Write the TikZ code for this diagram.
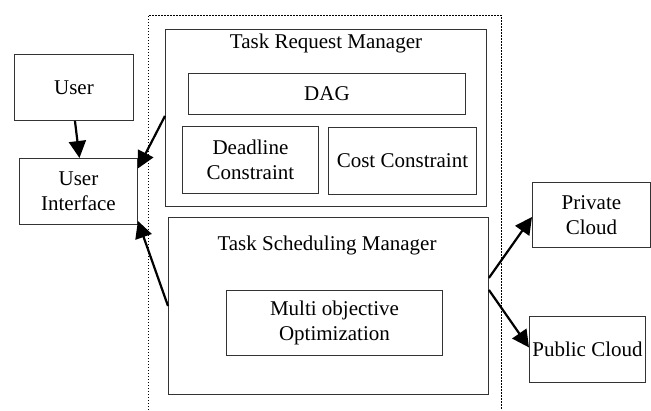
\documentclass[tikz,border=0pt]{standalone}
\usepackage{fontspec}
\setmainfont{Liberation Serif}
\usetikzlibrary{arrows.meta}
\begin{document}
\begin{tikzpicture}[x=1pt,y=-1pt,
  box/.style={draw=black!80, line width=0.9pt, inner sep=0pt, align=center,
    font=\fontsize{21}{25.5}\selectfont, anchor=north west},
  lbl/.style={inner sep=0pt, align=center, font=\fontsize{21}{25.5}\selectfont},
  arr/.style={line width=2.2pt, -{Triangle[length=17pt,width=17pt]}}]
\useasboundingbox (0,0) rectangle (651,410);
% dotted container (open at the bottom)
\draw[line width=0.8pt, dash pattern=on 1.5pt off 1.5pt] (148,410) -- (148,15) -- (501,15) -- (501,410);
% left side
\node[box, minimum width=119pt, minimum height=66pt] (user) at (14,54) {User};
\node[box, minimum width=118pt, minimum height=66pt] (ui) at (19,158) {User\\Interface};
% task request manager
\node[box, minimum width=321pt, minimum height=177pt] (trm) at (165,29) {};
\node[lbl] (trmt) at (326,43) {Task Request Manager};
\node[box, minimum width=277pt, minimum height=41pt] (dag) at (188,73) {DAG};
\node[box, minimum width=136pt, minimum height=67pt] (dl) at (182,126) {Deadline\\Constraint};
\node[box, minimum width=148pt, minimum height=67pt] (cc) at (328,127) {Cost Constraint};
% task scheduling manager
\node[box, minimum width=320pt, minimum height=177pt] (tsm) at (168,217) {};
\node[lbl] (tsmt) at (327,245) {Task Scheduling Manager};
\node[box, minimum width=216pt, minimum height=65pt] (mo) at (226,290) {Multi objective\\Optimization};
% clouds
\node[box, minimum width=118pt, minimum height=65pt] (pc) at (532,182) {Private\\Cloud};
\node[box, minimum width=116pt, minimum height=66pt] (puc) at (529,316) {Public Cloud};
% arrows
\draw[arr] ([xshift=1pt]user.south) -- ([xshift=1pt]ui.north);
\draw[arr] ([yshift=2pt]trm.west) -- ([yshift=23pt]ui.east);
\draw[arr] (tsm.west) -- ([yshift=4pt]ui.south east);
\draw[arr] ([yshift=28pt]tsm.east) -- ([yshift=-2pt]pc.west);
\draw[arr] ([yshift=16pt]tsm.east) -- ([yshift=2pt]puc.west);
\end{tikzpicture}
\end{document}
